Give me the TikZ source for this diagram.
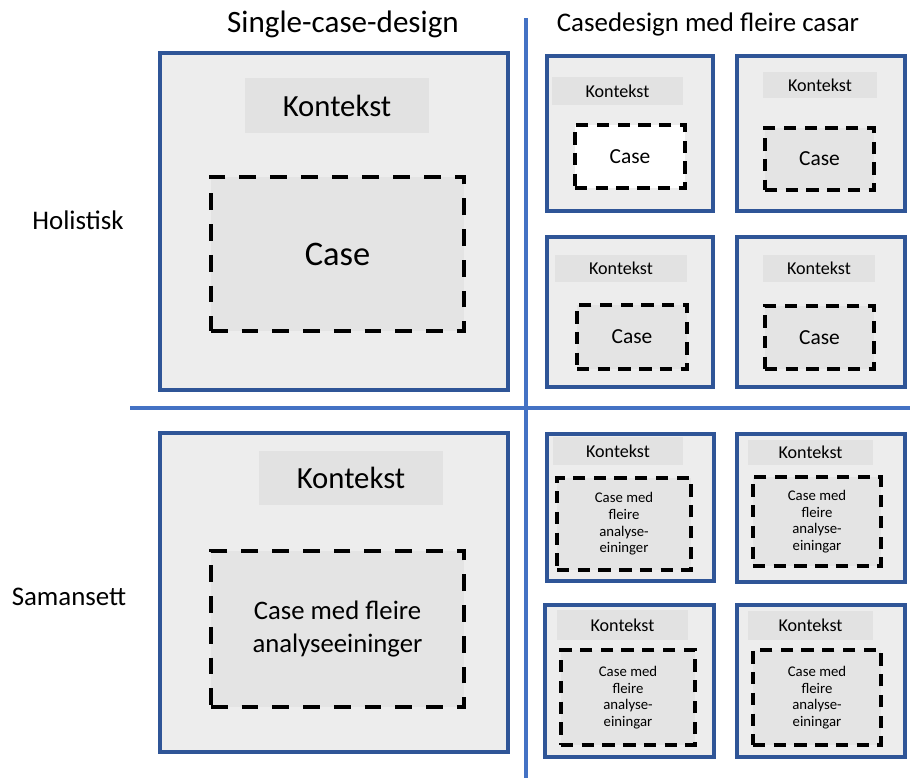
\documentclass[tikz,border=0pt]{standalone}
\usepackage{fontspec}
\setmainfont{Carlito}
\usetikzlibrary{positioning}
\definecolor{frameblue}{HTML}{2F5597}
\definecolor{lineblue}{HTML}{4472C4}
\definecolor{boxgray}{HTML}{EDEDED}
\definecolor{ctxgray}{HTML}{E2E2E2}
\definecolor{casegray}{HTML}{E4E4E4}

\begin{document}
\begin{tikzpicture}[x=0.02cm,y=-0.02cm,
 sz/.style 2 args={minimum width=#1*0.02cm,minimum height=#2*0.02cm,inner sep=0pt},
 frame/.style={draw=frameblue,line width=2.4pt,fill=boxgray},
 ctx/.style={fill=ctxgray},
 bigcase/.style={draw,line width=2.3pt,dash pattern=on 9.5pt off 8pt,fill=casegray,align=center},
 smallcase/.style={draw,line width=2.3pt,dash pattern=on 7pt off 4.8pt,fill=casegray,align=center},
 head/.style={font=\fontsize{15.3}{18}\selectfont},
 smallctx/.style={ctx,font=\fontsize{10.3}{12}\selectfont},
 multi/.style={smallcase,font=\fontsize{8.4}{9.5}\selectfont}]
\useasboundingbox (0,0) rectangle (910,778);
% dividers
\coordinate (vtop) at (526,18);
\coordinate (vbot) at (526,778);
\coordinate (hleft) at (130,408);
\coordinate (hright) at (910,408);
\draw[lineblue,line width=2.3pt] (vtop) -- (vbot);
\draw[lineblue,line width=2.3pt] (hleft) -- (hright);
% headings
\node[font=\fontsize{17.7}{21}\selectfont] (single) at (343,24) {Single-case-design};
\node[head] (multiple) at (708,24) {Casedesign med fleire casar};
\node[head] (holist) at (78,220) {Holistisk};
\node[head] (saman) at (69,597) {Samansett};
% single case, holistic
\node[frame,sz={348}{337}] (s1) at (334,221.5) {};
\node[ctx,sz={184}{55},font=\fontsize{17.5}{21}\selectfont] (s1k) at (337,105.5) {Kontekst};
\node[bigcase,sz={253}{154},font=\fontsize{19.6}{23}\selectfont] (s1c) at (337.5,254) {Case};
% single case, embedded
\node[frame,sz={348}{319}] (s2) at (334,592.5) {};
\node[ctx,sz={184}{54},font=\fontsize{17.5}{21}\selectfont] (s2k) at (351,478) {Kontekst};
\node[bigcase,sz={253}{156},font=\fontsize{15.2}{18.7}\selectfont] (s2c) at (337.5,629) {Case med fleire\\analyseeininger};
% multiple cases, holistic
\node[frame,sz={166}{155}] (ma) at (630,133.5) {};
\node[smallctx,sz={131}{28}] (mak) at (617.5,91) {Kontekst};
\node[smallcase,fill=white,sz={110}{63},font=\fontsize{12.2}{14}\selectfont] (mac) at (630,156.5) {Case};
\node[frame,sz={168}{155}] (mb) at (821,133.5) {};
\node[smallctx,sz={114}{26}] (mbk) at (820,85) {Kontekst};
\node[smallcase,sz={109}{62},font=\fontsize{12.2}{14}\selectfont] (mbc) at (819.5,159) {Case};
\node[frame,sz={166}{150}] (mc) at (630,312) {};
\node[smallctx,sz={132}{27}] (mck) at (621,268.5) {Kontekst};
\node[smallcase,sz={110}{64},font=\fontsize{12.2}{14}\selectfont] (mcc) at (632,337) {Case};
\node[frame,sz={168}{150}] (md) at (821,312) {};
\node[smallctx,sz={112}{27}] (mdk) at (819,268.5) {Kontekst};
\node[smallcase,sz={109}{63},font=\fontsize{12.2}{14}\selectfont] (mdc) at (819.5,337.5) {Case};
% multiple cases, embedded
\node[frame,sz={167}{147}] (me) at (630.5,507.5) {};
\node[smallctx,sz={130}{28}] (mek) at (618,451) {Kontekst};
\node[multi,sz={134}{92}] (mec) at (624,524) {Case med\\fleire\\analyse-\\eininger};
\node[frame,sz={168}{148}] (mf) at (821,508) {};
\node[smallctx,sz={125}{25}] (mfk) at (810.5,452.5) {Kontekst};
\node[multi,sz={128}{89}] (mfc) at (817,521.5) {Case med\\fleire\\analyse-\\einingar};
\node[frame,sz={169}{152}] (mg) at (629.5,681) {};
\node[smallctx,sz={131}{30}] (mgk) at (622.5,625) {Kontekst};
\node[multi,sz={134}{95}] (mgc) at (628,697.5) {Case med\\fleire\\analyse-\\einingar};
\node[frame,sz={168}{152}] (mh) at (821,681) {};
\node[smallctx,sz={125}{29}] (mhk) at (810.5,625.5) {Kontekst};
\node[multi,sz={128}{95}] (mhc) at (817,697.5) {Case med\\fleire\\analyse-\\einingar};
\end{tikzpicture}
\end{document}
